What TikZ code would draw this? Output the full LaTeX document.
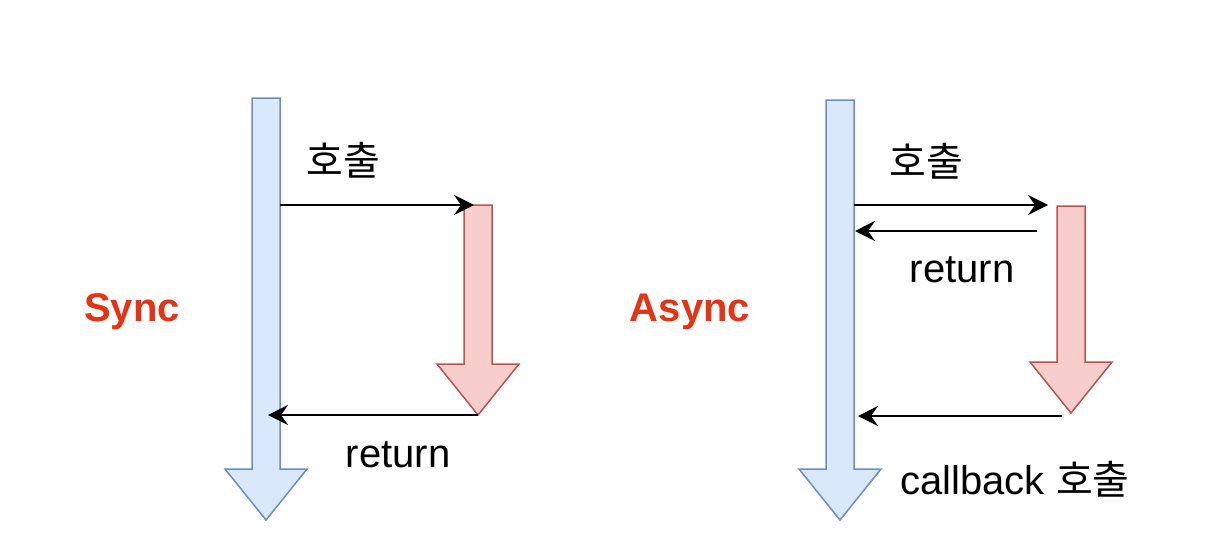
\documentclass[tikz,border=0pt]{standalone}
\usepackage{fontspec}
\setmainfont{Liberation Sans}
\newfontfamily\kr{Noto Sans CJK KR}
\usepackage{xcolor}
\usetikzlibrary{arrows.meta}
\definecolor{callerfill}{HTML}{DAE8FC}
\definecolor{callerdraw}{HTML}{6C8EBF}
\definecolor{calleefill}{HTML}{F8CECC}
\definecolor{calleedraw}{HTML}{B85450}
\definecolor{titlered}{RGB}{228,52,22}
\tikzset{
    caller-flow/.style = {draw=callerdraw, fill=callerfill, line width=0.75pt},
    callee-flow/.style = {draw=calleedraw, fill=calleefill, line width=0.75pt},
    msg/.style = {draw=black, line width=1pt, -{Stealth[length=10pt,width=10pt,inset=3.5pt]}},
    msg-label/.style = {font=\fontsize{20}{24}\selectfont, inner sep=0pt},
    mode-title/.style = {font=\fontsize{20}{24}\selectfont\bfseries, text=titlered, inner sep=0pt},
}
% vertical block arrow: style, centre x, top y, tip y
\newcommand{\downblock}[4]{%
    \draw[#1] (#2-14,#3) -- (#2+14,#3) -- (#2+14,#4-51) -- (#2+41,#4-51)
        -- (#2,#4) -- (#2-41,#4-51) -- (#2-14,#4-51) -- cycle;}
\begin{document}
\begin{tikzpicture}[x=0.5pt, y=-0.5pt]
\useasboundingbox (0,0) rectangle (1208,552);

% Sync
\downblock{caller-flow}{266}{98}{520}
\downblock{callee-flow}{478}{205}{415}
\coordinate (syncCallFrom) at (280,205);
\coordinate (syncCallTo) at (474,205);
\coordinate (syncRetFrom) at (478,415);
\coordinate (syncRetTo) at (268,415);
\draw[msg] (syncCallFrom) -- (syncCallTo);
\draw[msg] (syncRetFrom) -- (syncRetTo);
\node[mode-title] (sync) at (132,312) {Sync};
\node[msg-label] (syncCall) at (343,160) {\kr 호출};
\node[msg-label] (syncRet) at (398,455) {return};

% Async
\downblock{caller-flow}{840}{100}{520}
\downblock{callee-flow}{1071}{206}{413}
\coordinate (asyncCallFrom) at (854,205);
\coordinate (asyncCallTo) at (1048,205);
\coordinate (asyncRetFrom) at (1037,231);
\coordinate (asyncRetTo) at (855,231);
\coordinate (cbFrom) at (1062,416);
\coordinate (cbTo) at (858,416);
\draw[msg] (asyncCallFrom) -- (asyncCallTo);
\draw[msg] (asyncRetFrom) -- (asyncRetTo);
\draw[msg] (cbFrom) -- (cbTo);
\node[mode-title] (async) at (690,312) {Async};
\node[msg-label] (asyncCall) at (926,161) {\kr 호출};
\node[msg-label] (asyncRet) at (962,270) {return};
\node[msg-label] (callback) at (1015,479) {callback {\kr 호출}};
\end{tikzpicture}
\end{document}
